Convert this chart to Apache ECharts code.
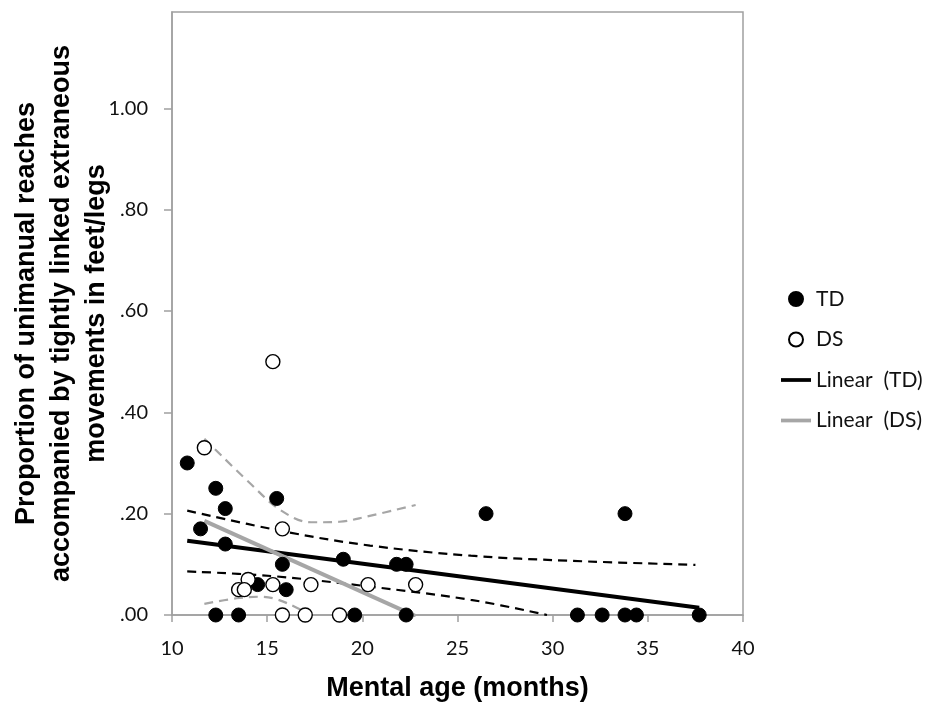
<!DOCTYPE html>
<html>
<head>
<meta charset="utf-8">
<script src="https://cdn.jsdelivr.net/npm/echarts@6/dist/echarts.min.js"></script>
<style>
  html, body { margin: 0; padding: 0; background: #ffffff; }
  #chart { width: 932px; height: 702px; }
</style>
</head>
<body>
<div id="chart"></div>
<script>
// Typically developing children (TD): mental age in months, proportion of reaches
const tdAge  = [10.8, 12.3, 12.8, 11.5, 12.8, 15.5, 15.8, 14.5, 16.0, 19.0, 21.8, 22.3, 26.5, 33.8,
                12.3, 13.5, 19.6, 22.3, 31.3, 32.6, 33.8, 34.4, 37.7];
const tdProp = [0.30, 0.25, 0.21, 0.17, 0.14, 0.23, 0.10, 0.06, 0.05, 0.11, 0.10, 0.10, 0.20, 0.20,
                0, 0, 0, 0, 0, 0, 0, 0, 0];

// Children with Down syndrome (DS)
const dsAge  = [15.3, 11.7, 15.8, 14.0, 13.5, 13.8, 15.3, 17.3, 20.3, 22.8, 15.8, 17.0, 18.8];
const dsProp = [0.50, 0.33, 0.17, 0.07, 0.05, 0.05, 0.06, 0.06, 0.06, 0.06, 0, 0, 0];

// Confidence bands around each fitted line
const tdUpperX = [10.8, 16.0, 20.4, 25.7, 30.9, 37.5];
const tdUpperY = [0.206, 0.164, 0.137, 0.117, 0.107, 0.099];
const tdLowerX = [10.8, 15.2, 20.4, 25.7, 29.7];
const tdLowerY = [0.086, 0.077, 0.056, 0.030, 0.0];
const dsUpperX = [11.7, 14.1, 15.7, 17.3, 18.8, 20.2, 22.8];
const dsUpperY = [0.348, 0.260, 0.207, 0.183, 0.184, 0.194, 0.217];
const dsLowerX = [11.7, 13.4, 14.6, 15.5, 16.8, 17.2];
const dsLowerY = [0.022, 0.033, 0.036, 0.031, 0.010, 0.0];

// Axis ticks
const yTicks = [0, 0.2, 0.4, 0.6, 0.8, 1.0];

const zip = (xs, ys) => xs.map((x, i) => [x, ys[i]]);

// Least-squares line over the range of the observed ages
function linearFit(xs, ys) {
  const n = xs.length;
  const mx = xs.reduce((a, b) => a + b, 0) / n;
  const my = ys.reduce((a, b) => a + b, 0) / n;
  let sxy = 0, sxx = 0;
  for (let i = 0; i < n; i++) {
    sxy += (xs[i] - mx) * (ys[i] - my);
    sxx += (xs[i] - mx) * (xs[i] - mx);
  }
  const b = sxy / sxx, a = my - b * mx;
  const x0 = Math.min(...xs), x1 = Math.max(...xs);
  return [[x0, a + b * x0], [x1, a + b * x1]];
}

const GRAY = '#a6a6a6';
const AXIS = '#a0a0a0';
const TICK_FONT = 'Lato';
const TITLE_FONT = '"Liberation Sans", Arial, sans-serif';
const LINE_ICON = 'path://M0,0 L32,0 L32,4 L0,4 Z';

function band(data, color) {
  return {
    type: 'line', data, smooth: 0.35, symbol: 'none', silent: true, z: 2,
    lineStyle: { color, width: 2.2, type: [9, 6] }
  };
}

const chart = echarts.init(document.getElementById('chart'), null, { renderer: 'canvas' });

chart.setOption({
  animation: false,
  backgroundColor: '#ffffff',
  grid: {
    left: 172, top: 12, width: 571, height: 603,
    outerBoundsMode: 'none', containLabel: false,
    show: true, borderColor: AXIS, borderWidth: 1.5, backgroundColor: 'transparent'
  },
  xAxis: {
    type: 'value', min: 10, max: 40, interval: 5,
    name: 'Mental age (months)', nameLocation: 'middle', nameGap: 60, nameMoveOverlap: false,
    nameTextStyle: { fontFamily: TITLE_FONT, fontWeight: 'bold', fontSize: 27, color: '#000' },
    axisLine: { show: true, onZero: false, lineStyle: { color: AXIS, width: 1.5 } },
    axisTick: { show: true, inside: false, length: 7, lineStyle: { color: AXIS, width: 1.5 } },
    axisLabel: { margin: 24, fontFamily: TICK_FONT, fontSize: 20, color: '#111' },
    splitLine: { show: false }
  },
  yAxis: {
    type: 'value', min: 0, max: 1.19, interval: 0.2,
    name: 'Proportion of unimanual reaches\naccompanied by tightly linked extraneous\nmovements in feet/legs',
    nameLocation: 'middle', nameRotate: 90, nameGap: 58, nameMoveOverlap: false,
    nameTextStyle: { fontFamily: TITLE_FONT, fontWeight: 'bold', fontSize: 27, lineHeight: 35, color: '#000', align: 'center' },
    axisLine: { show: true, onZero: false, lineStyle: { color: AXIS, width: 1.5 } },
    axisTick: { show: true, inside: false, length: 8, customValues: yTicks, lineStyle: { color: AXIS, width: 1.5 } },
    axisLabel: {
      margin: 24, fontFamily: TICK_FONT, fontSize: 20, color: '#111',
      customValues: yTicks,
      formatter: v => (v >= 1 ? v.toFixed(2) : v.toFixed(2).replace(/^0/, ''))
    },
    splitLine: { show: false }
  },
  legend: {
    orient: 'vertical', left: 776, top: 282,
    itemWidth: 30, itemHeight: 14, itemGap: 16.5,
    textStyle: { fontFamily: TICK_FONT, fontSize: 21, lineHeight: 24, color: '#111' },
    data: [
      { name: 'TD', icon: 'circle' },
      { name: 'DS', icon: 'circle' },
      { name: 'Linear  (TD)', icon: LINE_ICON },
      { name: 'Linear  (DS)', icon: LINE_ICON }
    ]
  },
  series: [
    band(zip(tdUpperX, tdUpperY), '#000000'),
    band(zip(tdLowerX, tdLowerY), '#000000'),
    band(zip(dsUpperX, dsUpperY), GRAY),
    band(zip(dsLowerX, dsLowerY), GRAY),
    {
      name: 'Linear  (TD)', type: 'line', data: linearFit(tdAge, tdProp),
      symbol: 'none', z: 3, lineStyle: { color: '#000000', width: 4 }, itemStyle: { color: '#000000' }
    },
    {
      name: 'Linear  (DS)', type: 'line', data: linearFit(dsAge, dsProp),
      symbol: 'none', z: 3, lineStyle: { color: GRAY, width: 4 }, itemStyle: { color: GRAY }
    },
    {
      name: 'TD', type: 'scatter', data: zip(tdAge, tdProp), clip: false, z: 5,
      symbol: 'circle', symbolSize: 14,
      itemStyle: { color: '#000000', borderColor: '#000000', borderWidth: 1, opacity: 1 }
    },
    {
      name: 'DS', type: 'scatter', data: zip(dsAge, dsProp), clip: false, z: 6,
      symbol: 'circle', symbolSize: 14,
      itemStyle: { color: '#ffffff', borderColor: '#000000', borderWidth: 1.4, opacity: 1 }
    }
  ]
});
</script>
</body>
</html>
